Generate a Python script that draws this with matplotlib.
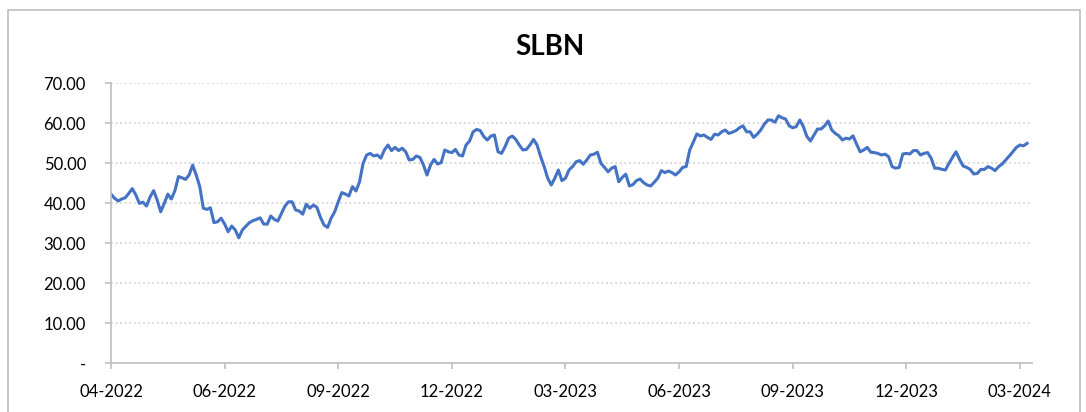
import matplotlib.pyplot as plt
from matplotlib.patches import Rectangle

# SLBN price (one value per point on the category axis)
prices = [
    42.2, 41.2, 40.5, 41.0, 41.3, 42.4, 43.6, 42.0, 39.9, 40.2, 39.25, 41.5, 43.1, 40.75, 37.8,
    39.9, 42.2, 41.0, 43.1, 46.6, 46.3, 45.9, 47.0, 49.5, 47.0, 44.1, 38.7, 38.4, 38.8, 35.1,
    35.3, 36.2, 34.75, 32.8, 34.25, 33.25, 31.3, 33.25, 34.2, 35.1, 35.6, 35.9, 36.3,
    34.75, 34.7, 36.75, 35.9, 35.5, 37.4, 39.25, 40.3, 40.3, 38.25, 38.0, 37.2, 39.7, 38.7,
    39.5, 38.9, 36.4, 34.5, 33.9, 36.2, 37.8, 40.3, 42.6, 42.25, 41.75, 44.1, 43.0, 45.3,
    49.9, 52.0, 52.4, 51.75, 52.0, 51.2, 53.25, 54.5, 53.1, 53.9, 53.1, 53.7, 52.8, 50.75,
    50.9, 51.75,
    51.4, 49.5, 47.0, 49.5, 50.9, 49.75, 50.1, 53.25, 52.8, 52.6, 53.4, 52.0, 51.75, 54.5,
    55.5, 57.8, 58.4, 58.1, 56.6, 55.75, 56.75, 57.0, 52.8, 52.4, 54.1, 56.2, 56.75, 55.9,
    54.5, 53.25, 53.4, 54.5, 55.9, 54.5, 51.6, 49.1, 46.2, 44.5, 46.2, 48.25, 45.6, 46.2,
    48.25, 49.1, 50.3,
    50.6, 49.7, 50.75, 52.0, 52.2, 52.7, 49.9, 48.9, 47.8, 48.7, 49.1, 45.3, 46.4, 47.2,
    44.25, 44.6, 45.6, 46.0, 45.1, 44.5, 44.25, 45.2, 46.2, 48.1, 47.6, 48.0, 47.6, 47.0,
    47.8, 48.9, 49.1, 53.25, 55.2, 57.25, 56.75, 57.0, 56.4, 55.9, 57.2, 57.0, 57.8, 58.25,
    57.4, 57.7,
    58.1, 58.8, 59.3, 57.8, 57.8, 56.4, 57.2, 58.25, 59.7, 60.75, 60.75, 60.2, 61.8, 61.3,
    61.0, 59.3, 58.8, 59.1, 60.75, 59.1, 56.6, 55.5, 57.0, 58.5, 58.5, 59.3, 60.5, 58.25,
    57.4, 56.8, 55.75, 56.2, 56.0, 56.8, 54.7, 52.8, 53.25, 53.9, 52.7, 52.6, 52.4, 52.0,
    52.2,
    51.6, 49.1, 48.7, 48.9, 52.25, 52.4, 52.25, 53.1, 53.1, 52.0, 52.4, 52.6, 51.2, 48.7,
    48.7, 48.4, 48.25, 49.9, 51.4, 52.8, 50.9, 49.25, 48.9, 48.4, 47.25, 47.4, 48.4, 48.4,
    49.1, 48.7, 48.1, 49.1, 49.75, 50.75, 51.75, 52.8, 53.9, 54.5, 54.3, 54.9,
]
month_labels = ['04-2022', '06-2022', '09-2022', '12-2022', '03-2023',
                '06-2023', '09-2023', '12-2023', '03-2024']
label_every = 32
y_ticks = [0, 10, 20, 30, 40, 50, 60, 70]

plt.rcParams['font.family'] = ['Lato', 'DejaVu Sans']

fig = plt.figure(figsize=(10.86, 4.12), dpi=100)
fig.patches.append(Rectangle((8 / 1086, -0.05), 1072 / 1086, 1.05 - 10 / 412,
                             transform=fig.transFigure, fill=False,
                             edgecolor='#bfbfbf', lw=1.2))
ax = fig.add_axes([111 / 1086, 1 - 363 / 412, 921 / 1086, 280 / 412])

x = range(len(prices))
ax.plot(x, prices, color='#4472C4', lw=2.2, solid_joinstyle='round')

ax.set_ylim(0, 70)
ax.set_xlim(0, len(prices) + 0.4)
ax.set_yticks(y_ticks)
ax.set_yticklabels(['-' if v == 0 else f'{v:.2f}' for v in y_ticks])
ax.set_xticks([i * label_every for i in range(len(month_labels))])
ax.set_xticklabels(month_labels)

ax.grid(axis='y', linestyle=(0, (1.2, 1.8)), color='#d0d0d0', lw=1.1)
ax.set_axisbelow(True)
for s in ['top', 'right']:
    ax.spines[s].set_visible(False)
for s in ['left', 'bottom']:
    ax.spines[s].set_color('#bfbfbf')
    ax.spines[s].set_linewidth(1.2)
ax.tick_params(axis='both', colors='#bfbfbf', labelcolor='#000000',
               labelsize=12, length=4, width=1.2)
ax.tick_params(axis='y', pad=14)
ax.tick_params(axis='x', pad=11)

fig.text(0.506, 1 - 47 / 412, 'SLBN', ha='center', va='center',
         fontsize=20, fontweight='bold')

fig.savefig('out.png', dpi=100)
